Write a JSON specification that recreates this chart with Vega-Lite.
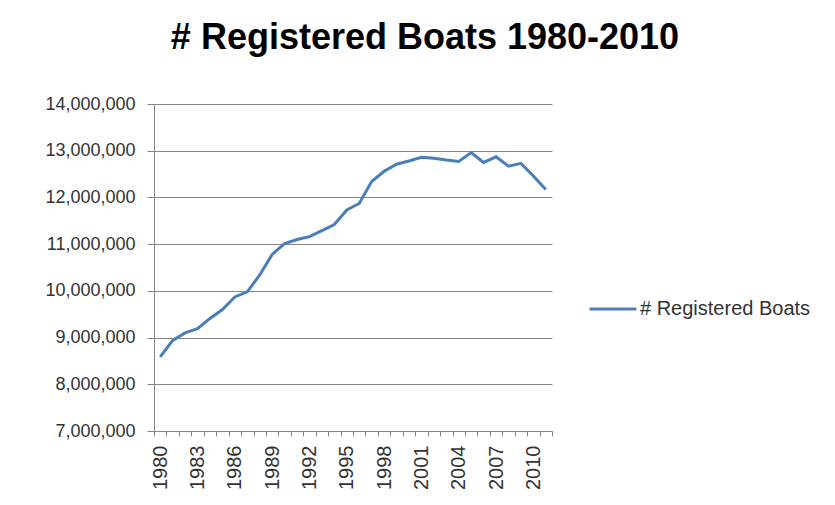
{
  "$schema": "https://vega.github.io/schema/vega-lite/v6.json",
  "width": 398,
  "height": 327,
  "autosize": "none",
  "padding": {"left": 154, "top": 104, "right": 283, "bottom": 74},
  "background": "white",
  "title": {
    "text": "# Registered Boats 1980-2010",
    "font": "Liberation Sans",
    "fontSize": 36,
    "fontWeight": "bold",
    "color": "#000000",
    "anchor": "middle",
    "dx": 72,
    "offset": 38
  },
  "data": {
    "values": [
      {"year": 1980, "boats": 8586000, "series": "# Registered Boats"},
      {"year": 1981, "boats": 8940000, "series": "# Registered Boats"},
      {"year": 1982, "boats": 9100000, "series": "# Registered Boats"},
      {"year": 1983, "boats": 9190000, "series": "# Registered Boats"},
      {"year": 1984, "boats": 9410000, "series": "# Registered Boats"},
      {"year": 1985, "boats": 9600000, "series": "# Registered Boats"},
      {"year": 1986, "boats": 9870000, "series": "# Registered Boats"},
      {"year": 1987, "boats": 9980000, "series": "# Registered Boats"},
      {"year": 1988, "boats": 10340000, "series": "# Registered Boats"},
      {"year": 1989, "boats": 10780000, "series": "# Registered Boats"},
      {"year": 1990, "boats": 11010000, "series": "# Registered Boats"},
      {"year": 1991, "boats": 11100000, "series": "# Registered Boats"},
      {"year": 1992, "boats": 11160000, "series": "# Registered Boats"},
      {"year": 1993, "boats": 11290000, "series": "# Registered Boats"},
      {"year": 1994, "boats": 11420000, "series": "# Registered Boats"},
      {"year": 1995, "boats": 11730000, "series": "# Registered Boats"},
      {"year": 1996, "boats": 11870000, "series": "# Registered Boats"},
      {"year": 1997, "boats": 12340000, "series": "# Registered Boats"},
      {"year": 1998, "boats": 12560000, "series": "# Registered Boats"},
      {"year": 1999, "boats": 12710000, "series": "# Registered Boats"},
      {"year": 2000, "boats": 12780000, "series": "# Registered Boats"},
      {"year": 2001, "boats": 12860000, "series": "# Registered Boats"},
      {"year": 2002, "boats": 12840000, "series": "# Registered Boats"},
      {"year": 2003, "boats": 12800000, "series": "# Registered Boats"},
      {"year": 2004, "boats": 12770000, "series": "# Registered Boats"},
      {"year": 2005, "boats": 12960000, "series": "# Registered Boats"},
      {"year": 2006, "boats": 12750000, "series": "# Registered Boats"},
      {"year": 2007, "boats": 12870000, "series": "# Registered Boats"},
      {"year": 2008, "boats": 12670000, "series": "# Registered Boats"},
      {"year": 2009, "boats": 12730000, "series": "# Registered Boats"},
      {"year": 2010, "boats": 12460000, "series": "# Registered Boats"},
      {"year": 2011, "boats": 12170000, "series": "# Registered Boats"}
    ]
  },
  "mark": {"type": "line", "strokeWidth": 3, "interpolate": "linear"},
  "encoding": {
    "x": {
      "field": "year",
      "type": "ordinal",
      "title": null,
      "scale": {"paddingInner": 0, "paddingOuter": 0},
      "axis": {
        "labelAngle": 270,
        "labelExpr": "(datum.value - 1980) % 3 == 0 ? datum.label : ''",
        "tickBand": "extent",
        "tickSize": 5,
        "tickColor": "#868686",
        "domainColor": "#868686",
        "labelPadding": 9,
        "labelFont": "Liberation Sans",
        "labelFontSize": 20,
        "labelColor": "#333333",
        "grid": false
      }
    },
    "y": {
      "field": "boats",
      "type": "quantitative",
      "title": null,
      "scale": {"domain": [7000000, 14000000], "nice": false, "zero": false},
      "axis": {
        "values": [7000000, 8000000, 9000000, 10000000, 11000000, 12000000, 13000000, 14000000],
        "format": ",.0f",
        "tickSize": 7,
        "tickColor": "#868686",
        "domainColor": "#868686",
        "gridColor": "#868686",
        "labelPadding": 12,
        "labelFont": "Liberation Sans",
        "labelFontSize": 18,
        "labelColor": "#333333"
      }
    },
    "color": {
      "field": "series",
      "type": "nominal",
      "scale": {"range": ["#4A7EBB"]},
      "legend": {
        "title": null,
        "orient": "none",
        "legendX": 434,
        "legendY": 180,
        "symbolType": "stroke",
        "symbolSize": 2200,
        "symbolStrokeWidth": 3,
        "labelFont": "Liberation Sans",
        "labelFontSize": 20,
        "labelLimit": 300,
        "labelColor": "#333333",
        "labelOffset": 2
      }
    }
  },
  "config": {"view": {"stroke": null}}
}
